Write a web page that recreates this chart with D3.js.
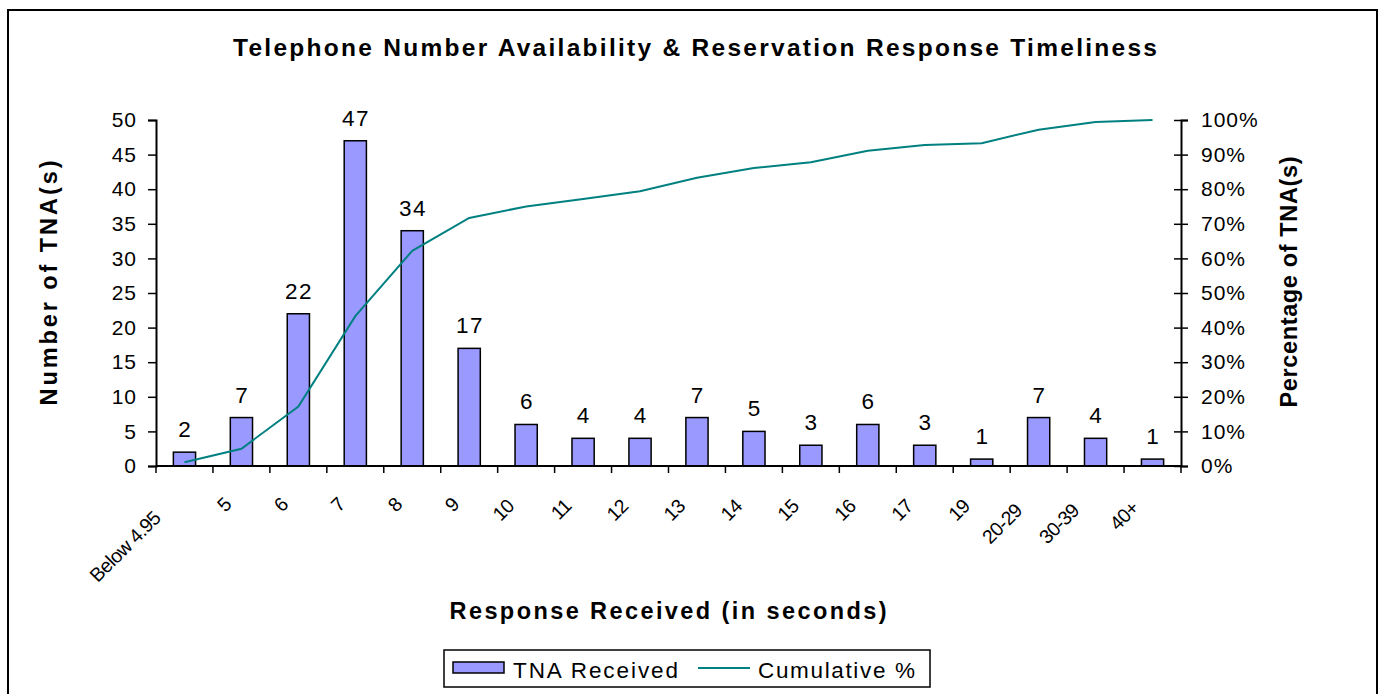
<!DOCTYPE html>
<html>
<head>
<meta charset="utf-8">
<script src="https://cdn.jsdelivr.net/npm/d3@7/dist/d3.min.js"></script>
<style>
  html, body { margin: 0; padding: 0; background: #fff; }
  svg { display: block; font-family: "Liberation Sans", Arial, sans-serif; }
</style>
</head>
<body>
<svg id="chart" width="1383" height="694"></svg>
<script>
const categories = ["Below 4.95","5","6","7","8","9","10","11","12","13","14","15","16","17","19","20-29","30-39","40+"];
const tnaReceived = [2,7,22,47,34,17,6,4,4,7,5,3,6,3,1,7,4,1];
const cumulativePct = [0.011,0.050,0.172,0.433,0.622,0.717,0.750,0.772,0.794,0.833,0.861,0.878,0.911,0.928,0.933,0.972,0.994,1.000];
const leftTicks = [0,5,10,15,20,25,30,35,40,45,50];
const rightTicks = [0,0.1,0.2,0.3,0.4,0.5,0.6,0.7,0.8,0.9,1.0];

const titleText = "Telephone Number Availability & Reservation Response Timeliness";
const xTitleText = "Response Received (in seconds)";
const yLeftTitleText = "Number of TNA(s)";
const yRightTitleText = "Percentage of TNA(s)";
const legendLabels = ["TNA Received","Cumulative %"];

const svg = d3.select("#chart");
const barFill = "#9999ff";
const lineColor = "#008080";

// outer border
svg.append("rect").attr("x",8).attr("y",10).attr("width",1369).attr("height",700)
  .attr("fill","none").attr("stroke","#000").attr("stroke-width",2);

const x = d3.scaleBand().domain(categories).range([156,1181]).paddingInner(0).paddingOuter(0);
const yL = d3.scaleLinear().domain([0,50]).range([466,120]);
const yR = d3.scaleLinear().domain([0,1]).range([466,120]);

// title
svg.append("text").attr("x",695).attr("y",56).attr("text-anchor","middle")
  .attr("font-size",24.5).attr("font-weight","bold")
  .attr("textLength",924).attr("lengthAdjust","spacing").text(titleText);

// bars
svg.append("g").selectAll("rect").data(categories).join("rect")
  .attr("x", (d)=> x(d) + x.bandwidth()/2 - x.bandwidth()*0.39/2)
  .attr("width", x.bandwidth()*0.39)
  .attr("y", (d,i)=> yL(tnaReceived[i]))
  .attr("height", (d,i)=> yL(0) - yL(tnaReceived[i]))
  .attr("fill", barFill).attr("stroke","#000").attr("stroke-width",1.5);

// data labels
svg.append("g").selectAll("text").data(categories).join("text")
  .attr("x", (d)=> x(d) + x.bandwidth()/2 + 0.75)
  .attr("y", (d,i)=> yL(tnaReceived[i]) - 15)
  .attr("text-anchor","middle").attr("font-size",22.5).attr("letter-spacing",1.5)
  .text((d,i)=> tnaReceived[i]);

// cumulative line
const line = d3.line().x((d,i)=> x(categories[i]) + x.bandwidth()/2).y(d=> yR(d));
svg.append("path").datum(cumulativePct).attr("d", line)
  .attr("fill","none").attr("stroke",lineColor).attr("stroke-width",2);

// left axis
const gL = svg.append("g").attr("transform","translate(156,0)")
  .call(d3.axisLeft(yL).tickValues(leftTicks).tickSize(8).tickPadding(11).tickFormat(d3.format("d")));
gL.selectAll("text").attr("font-size",21).attr("letter-spacing",1).attr("fill","#000").attr("font-family","Liberation Sans, Arial, sans-serif");
gL.select(".domain").attr("stroke-width",2);
gL.selectAll(".tick line").attr("stroke-width",1.5);

// right axis
const gR = svg.append("g").attr("transform","translate(1181,0)")
  .call(d3.axisRight(yR).tickValues(rightTicks).tickSize(7).tickPadding(13).tickFormat(d3.format(".0%")));
gR.selectAll("text").attr("font-size",21).attr("letter-spacing",1).attr("fill","#000").attr("font-family","Liberation Sans, Arial, sans-serif");
gR.select(".domain").attr("stroke-width",2);
gR.selectAll(".tick line").attr("x1",-7).attr("x2",7).attr("stroke-width",1.5);

// x axis line and ticks at band boundaries
const gX = svg.append("g");
gX.append("line").attr("x1",x.range()[0]).attr("x2",x.range()[1]).attr("y1",yL(0)).attr("y2",yL(0))
  .attr("stroke","#000").attr("stroke-width",2);
const boundaries = categories.map(c=> x(c)).concat([x.range()[1]]);
gX.selectAll("line.tk").data(boundaries).join("line").attr("class","tk")
  .attr("x1",d=>d).attr("x2",d=>d).attr("y1",yL(0)).attr("y2",yL(0)+7)
  .attr("stroke","#000").attr("stroke-width",1.5);

// x labels, rotated -45
const xl = gX.selectAll("text").data(categories).join("text")
  .attr("font-size",19.5).attr("letter-spacing",-0.6).attr("text-anchor","end").text(d=>d);
xl.each(function(d){
  const L = this.getComputedTextLength();
  const cx = x(d) + x.bandwidth()/2;
  const px = cx - 7.3 - 0.17*L;
  const py = 504 + 0.17*L;
  d3.select(this).attr("transform",`translate(${px},${py}) rotate(-45)`);
});

// axis titles
svg.append("text").attr("x",668).attr("y",619).attr("text-anchor","middle")
  .attr("font-size",23.5).attr("font-weight","bold")
  .attr("textLength",437).attr("lengthAdjust","spacing").text(xTitleText);
svg.append("text").attr("transform","translate(57,283) rotate(-90)").attr("text-anchor","middle")
  .attr("font-size",23.5).attr("font-weight","bold")
  .attr("textLength",245).attr("lengthAdjust","spacing").text(yLeftTitleText);
svg.append("text").attr("transform","translate(1297,282) rotate(-90)").attr("text-anchor","middle")
  .attr("font-size",23.5).attr("font-weight","bold")
  .attr("textLength",251).attr("lengthAdjust","spacing").text(yRightTitleText);

// legend
const lg = svg.append("g");
lg.append("rect").attr("x",444).attr("y",650).attr("width",486).attr("height",37)
  .attr("fill","#fff").attr("stroke","#000").attr("stroke-width",1.5);
lg.append("rect").attr("x",453).attr("y",662).attr("width",51).attr("height",11)
  .attr("fill",barFill).attr("stroke","#000").attr("stroke-width",1.5);
lg.append("text").attr("x",513).attr("y",678).attr("font-size",22.5)
  .attr("textLength",165).attr("lengthAdjust","spacing").text(legendLabels[0]);
lg.append("line").attr("x1",698).attr("x2",750).attr("y1",668).attr("y2",668)
  .attr("stroke",lineColor).attr("stroke-width",2);
lg.append("text").attr("x",758).attr("y",678).attr("font-size",22.5)
  .attr("textLength",157).attr("lengthAdjust","spacing").text(legendLabels[1]);
</script>
</body>
</html>
